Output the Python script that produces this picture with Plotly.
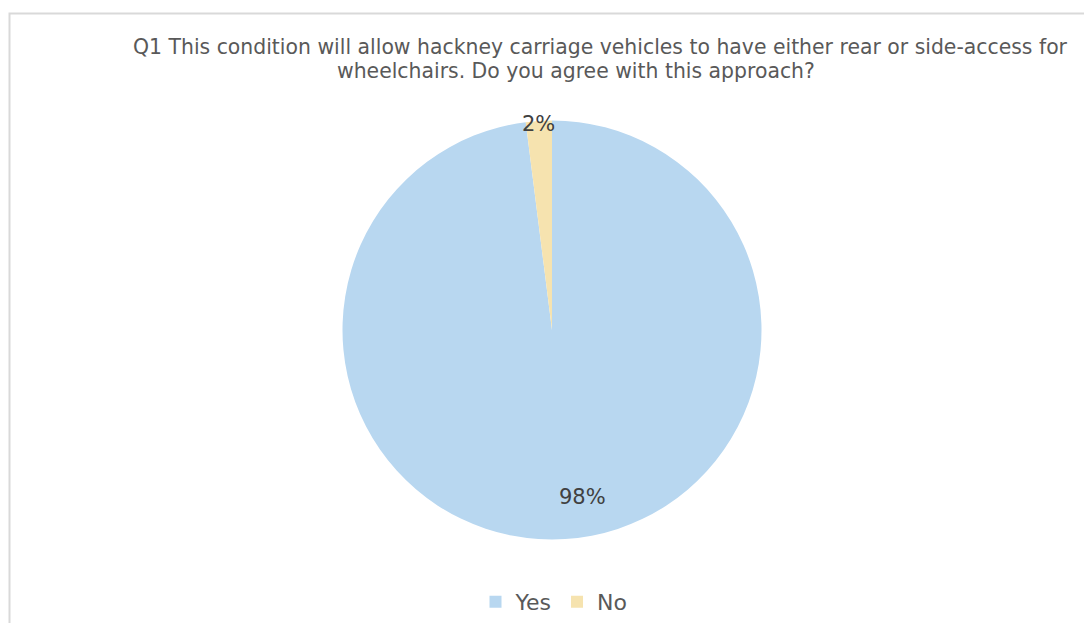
import plotly.graph_objects as go

categories = ["Yes", "No"]
values = [98, 2]
colors = ["#B8D7F0", "#F6E3AF"]
title_lines = [
    "Q1 This condition will allow hackney carriage vehicles to have either rear or side-access for",
    "wheelchairs. Do you agree with this approach?",
]

W, H = 1084, 623
cx, cy, D = 552, 330, 419
FONT = "DejaVu Sans"

fig = go.Figure(
    go.Pie(
        labels=categories,
        values=values,
        marker=dict(colors=colors, line=dict(width=0)),
        sort=False,
        direction="clockwise",
        rotation=0,
        textinfo="none",
        hoverinfo="label+percent",
        domain=dict(
            x=[(cx - D / 2) / W, (cx + D / 2) / W],
            y=[1 - (cy + D / 2) / H, 1 - (cy - D / 2) / H],
        ),
        showlegend=True,
    )
)

total = sum(values)
label_pos = [(582, 497), (538, 124)]  # text anchor positions (px) for data labels
annotations = []
for v, (lx, ly) in zip(values, label_pos):
    annotations.append(
        dict(
            text=f"{round(100 * v / total)}%",
            x=lx / W,
            y=1 - ly / H,
            xref="paper",
            yref="paper",
            xanchor="center",
            yanchor="middle",
            showarrow=False,
            font=dict(family=FONT, size=21, color="#404040"),
        )
    )

title_pos = [(600, 47), (576, 71)]
for line, (tx, ty) in zip(title_lines, title_pos):
    annotations.append(
        dict(
            text=line,
            x=tx / W,
            y=1 - ty / H,
            xref="paper",
            yref="paper",
            xanchor="center",
            yanchor="middle",
            showarrow=False,
            font=dict(family=FONT, size=20.4, color="#595959"),
        )
    )

fig.update_layout(
    width=W,
    height=H,
    margin=dict(l=0, r=0, t=0, b=0),
    paper_bgcolor="white",
    plot_bgcolor="white",
    font=dict(family=FONT, color="#595959"),
    legend=dict(
        orientation="h",
        x=554 / W,
        xanchor="center",
        y=0,
        yanchor="bottom",
        font=dict(family=FONT, size=22, color="#595959"),
        itemwidth=30,
    ),
    annotations=annotations,
    shapes=[
        dict(
            type="rect",
            xref="paper",
            yref="paper",
            x0=9.5 / W,
            x1=1.2,
            y0=-0.2,
            y1=1 - 13.5 / H,
            line=dict(color="#D9D9D9", width=2),
            fillcolor="rgba(0,0,0,0)",
        )
    ],
)

fig.write_html(
    "out.html",
    config={"displayModeBar": False},
    post_script="document.body.style.margin='0';document.body.style.overflow='hidden';",
)
